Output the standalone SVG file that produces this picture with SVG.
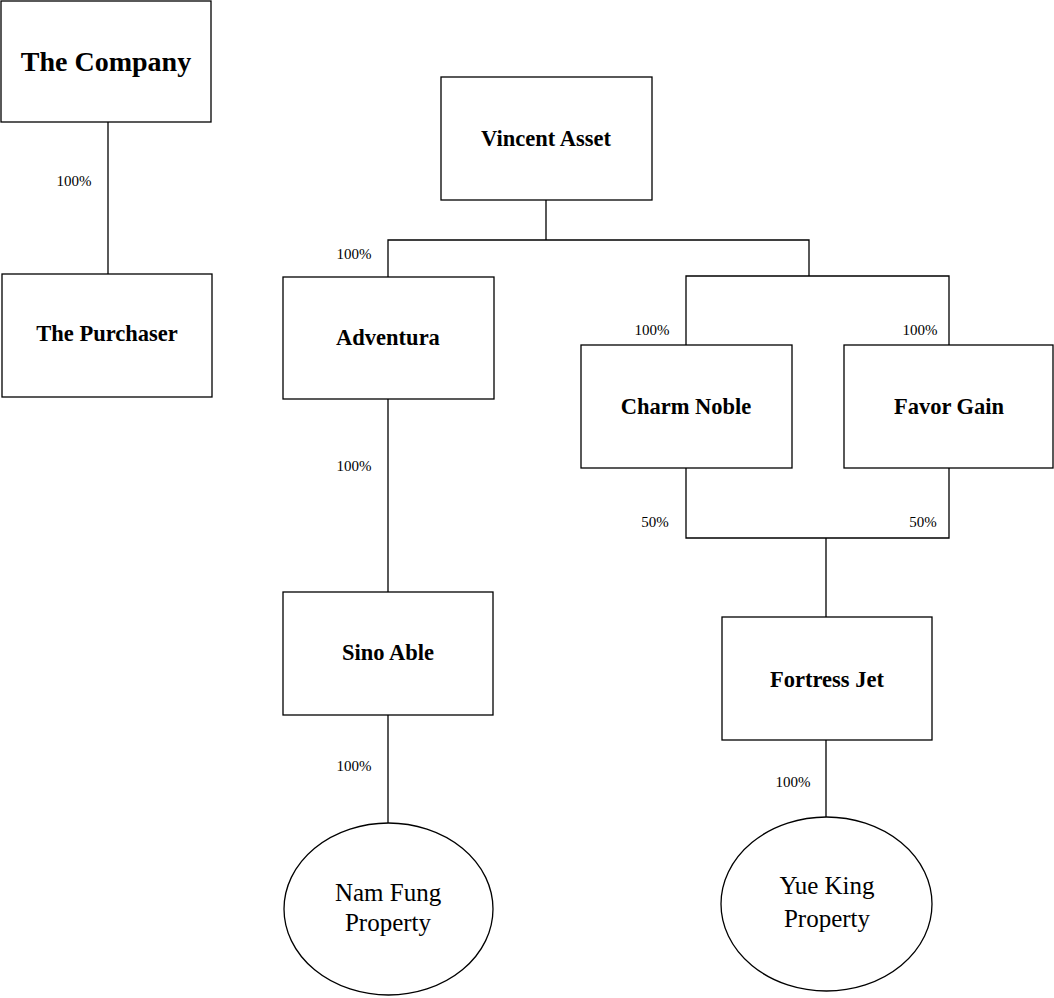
<svg xmlns="http://www.w3.org/2000/svg" width="1054" height="998" viewBox="0 0 1054 998">
<style>
.box{fill:#fff;stroke:#000;stroke-width:1.3}
text{font-family:'Liberation Serif','Times New Roman',serif;fill:#000;text-anchor:middle}
.t{font-weight:bold;font-size:22.5px}
.e{font-size:25px}
.p{font-size:15px}
.c{fill:none;stroke:#000;stroke-width:1.3}
</style>
<rect width="1054" height="998" fill="#fff"/>
<g id="connectors">
<path class="c" d="M108 122V274"/>
<path class="c" d="M546 200V240M388 277V240H809V276M686 345V276H949V345"/>
<path class="c" d="M388 399V592M388 715V823"/>
<path class="c" d="M686 468V538H949V468M826 538V617M826 740V817"/>
<text class="p" x="74" y="186">100%</text>
<text class="p" x="354" y="259">100%</text>
<text class="p" x="652" y="335">100%</text>
<text class="p" x="920" y="335">100%</text>
<text class="p" x="354" y="471">100%</text>
<text class="p" x="655" y="527">50%</text>
<text class="p" x="923" y="527">50%</text>
<text class="p" x="354" y="771">100%</text>
<text class="p" x="793" y="787">100%</text>
</g>
<g id="company"><rect class="box" x="1" y="1" width="210" height="121"/><text class="t" x="106" y="71" style="font-size:28px">The Company</text></g>
<g id="purchaser"><rect class="box" x="2" y="274" width="210" height="123"/><text class="t" x="107" y="341">The Purchaser</text></g>
<g id="vincent"><rect class="box" x="441" y="77" width="211" height="123"/><text class="t" x="546" y="146">Vincent Asset</text></g>
<g id="adventura"><rect class="box" x="283" y="277" width="211" height="122"/><text class="t" x="388" y="345">Adventura</text></g>
<g id="charm"><rect class="box" x="581" y="345" width="211" height="123"/><text class="t" x="686" y="414">Charm Noble</text></g>
<g id="favor"><rect class="box" x="844" y="345" width="209" height="123"/><text class="t" x="949" y="414">Favor Gain</text></g>
<g id="sino"><rect class="box" x="283" y="592" width="210" height="123"/><text class="t" x="388" y="660">Sino Able</text></g>
<g id="fortress"><rect class="box" x="722" y="617" width="210" height="123"/><text class="t" x="827" y="687">Fortress Jet</text></g>
<g id="namfung"><ellipse class="box" cx="388.5" cy="909" rx="104.5" ry="86"/><text class="e" x="388" y="901">Nam Fung</text><text class="e" x="388" y="931">Property</text></g>
<g id="yueking"><ellipse class="box" cx="826.5" cy="904" rx="105.5" ry="87"/><text class="e" x="827" y="894">Yue King</text><text class="e" x="827" y="927">Property</text></g>
</svg>
